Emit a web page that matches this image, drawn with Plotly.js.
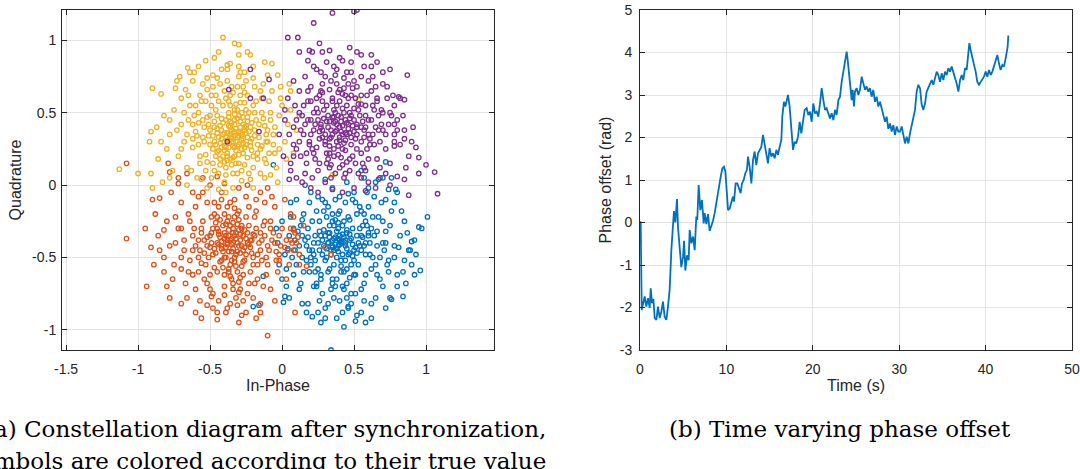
<!DOCTYPE html>
<html><head><meta charset="utf-8">
<script src="https://cdn.plot.ly/plotly-3.0.1.min.js"></script>
<style>html,body{margin:0;padding:0;background:#fff;} #chart{width:1080px;height:469px;}</style>
</head><body><div id="chart"></div>
<script>
// ---- Constellation symbols (In-Phase, Quadrature) ----
const yellowSymbols = [
[-0.41,1.02],[-0.33,0.98],[-0.53,0.86],[-0.655,0.81],[-0.64,0.78],[-0.90,0.67],[-0.84,0.63],[-0.74,0.67],[-0.71,0.75],[-0.87,0.40],
[-0.91,0.37],[-0.92,0.30],[-1.13,0.11],[-1.00,0.08],[-0.91,0.08],[-0.83,0.02],[-0.90,-0.02],[-0.30,0.97],[-0.22,0.90],[-0.30,0.90],
[-0.07,0.84],[-0.38,0.83],[-0.36,0.84],[-0.29,0.78],[-0.03,0.76],[-0.01,0.68],[0.06,0.65],[0.35,0.07],[-0.39,-0.05],[0.53,0.59],
[-0.35,0.33],[-0.30,0.28],[-0.42,0.38],[-0.25,0.41],[-0.38,0.22],[-0.47,0.30],[-0.28,0.35],[-0.33,0.45],[-0.40,0.27],[-0.22,0.30],
[-0.51,0.42],[-0.36,0.18],[-0.31,0.52],[-0.45,0.48],[-0.27,0.22],[-0.19,0.38],[-0.55,0.33],[-0.39,0.12],[-0.32,0.39],[-0.44,0.24],
[-0.24,0.47],[-0.58,0.50],[-0.37,0.58],[-0.29,0.62],[-0.48,0.15],[-0.15,0.25],[-0.12,0.41],[-0.53,0.21],[-0.34,0.08],[-0.26,0.14],
[-0.41,0.55],[-0.20,0.55],[-0.60,0.37],[-0.46,0.62],[-0.17,0.18],[-0.62,0.26],[-0.35,0.68],[-0.10,0.30],[-0.49,0.05],[-0.23,0.08],
[-0.56,0.58],[-0.43,0.70],[-0.30,0.75],[-0.65,0.45],[-0.68,0.30],[-0.08,0.45],[-0.14,0.60],[-0.05,0.22],[-0.40,0.02],[-0.28,0.03],
[-0.52,0.66],[-0.33,0.26],[-0.38,0.31],[-0.31,0.33],[-0.36,0.40],[-0.42,0.32],[-0.29,0.44],[-0.34,0.36],[-0.27,0.29],[-0.39,0.45],
[-0.45,0.36],[-0.33,0.20],[-0.24,0.33],[-0.41,0.20],[-0.37,0.50],[-0.50,0.28],[-0.21,0.24],[-0.30,0.48],[-0.47,0.44],[-0.26,0.38],
[-0.18,0.45],[-0.54,0.40],[-0.43,0.14],[-0.32,0.15],[-0.25,0.52],[-0.36,0.62],[-0.49,0.55],[-0.57,0.15],[-0.16,0.33],[-0.11,0.15],
[-0.64,0.55],[-0.70,0.42],[-0.72,0.20],[-0.66,0.12],[-0.59,0.05],[-0.06,0.35],[-0.02,0.48],[-0.09,0.58],[-0.19,0.68],[-0.25,0.72],
[-0.48,0.76],[-0.55,0.70],[-0.75,0.52],[-0.78,0.35],[-0.80,0.25],[-0.76,0.10],[-0.04,0.12],[0.02,0.30],[0.04,0.42],[-0.01,0.60],
[-0.13,0.70],[-0.38,0.80],[-0.61,0.78],[-0.82,0.48],[-0.44,-0.03],[-0.20,-0.02],[-0.12,0.05],[0.06,0.52],[0.10,0.38],[-0.07,0.65],
[-0.34,0.30],[-0.30,0.37],[-0.37,0.26],[-0.28,0.31],[-0.40,0.36],[-0.35,0.43],[-0.32,0.24],[-0.43,0.41],[-0.26,0.26],[-0.38,0.17],
[-0.23,0.37],[-0.46,0.20],[-0.29,0.57],[-0.52,0.47],[-0.20,0.12],[-0.58,0.43],[-0.14,0.50],[-0.31,0.68],[-0.44,0.58],[-0.53,0.10],
[-0.27,0.42],[-0.33,0.49],[-0.40,0.24],[-0.36,0.35],[-0.24,0.19],[-0.48,0.34],[-0.21,0.43],[-0.39,0.07],[-0.17,0.28],[-0.62,0.32],
[0.08,0.22],[0.12,0.48],[-0.03,0.02],[-0.57,0.62],[-0.67,0.66],[-0.40,0.65],[-0.26,0.64],[-0.11,0.35],[-0.09,0.22],[-0.15,0.08],
[-0.33,0.34],[-0.37,0.29],[-0.29,0.40],[-0.41,0.35],[-0.31,0.27],[-0.35,0.38],[-0.39,0.33],[-0.27,0.32],[-0.43,0.29],[-0.33,0.42],
[-0.25,0.36],[-0.45,0.39],[-0.30,0.21],[-0.37,0.47],[-0.22,0.27],[-0.48,0.25],[-0.28,0.50],[-0.42,0.46],[-0.35,0.14],[-0.19,0.34],
[-0.51,0.34],[-0.32,0.56],[-0.46,0.52],[-0.23,0.50],[-0.40,0.16],[-0.16,0.42],[-0.55,0.45],[-0.28,0.10],[-0.44,0.08],[-0.20,0.20],
[-0.58,0.28],[-0.34,0.64],[-0.49,0.62],[-0.14,0.27],[-0.62,0.42],[-0.27,0.68],[-0.52,0.16],[-0.10,0.38],[-0.38,0.72],[-0.60,0.55],
[-0.18,0.58],[-0.66,0.35],[-0.08,0.50],[-0.45,0.74],[-0.22,0.04],[-0.56,0.04],[-0.70,0.25],[-0.06,0.28],[-0.30,0.82],[-0.65,0.62],
[-0.36,0.31],[-0.32,0.30],[-0.38,0.36],[-0.30,0.34],[-0.40,0.30],[-0.34,0.27],[-0.36,0.44],[-0.26,0.40],[-0.44,0.33],[-0.31,0.46],
[-0.28,0.25],[-0.42,0.26],[-0.24,0.44],[-0.47,0.40],[-0.38,0.20],[-0.33,0.52],[-0.50,0.48],[-0.21,0.32],[-0.43,0.18],[-0.26,0.57],
[-0.54,0.30],[-0.17,0.22],[-0.39,0.60],[-0.57,0.20],[-0.13,0.46],[-0.48,0.68],[-0.24,0.62],[-0.61,0.48],[-0.12,0.18],[-0.31,0.08],
[-0.68,0.50],[-0.05,0.40],[-0.42,0.80],[-0.73,0.38],[-0.20,0.74],[-0.63,0.10],[-0.02,0.25],[-0.52,0.74],[-0.78,0.45],[-0.15,0.65],
[-0.34,0.19],[-0.46,0.28],[-0.29,0.36],[-0.37,0.41],[-0.25,0.28],[-0.41,0.43],[-0.33,0.37],[-0.39,0.26],[-0.27,0.47],[-0.45,0.23],
[-0.22,0.40],[-0.50,0.38],[-0.36,0.55],[-0.30,0.15],[-0.53,0.58],[-0.19,0.50],[-0.47,0.10],[-0.11,0.30],[-0.59,0.34],[-0.26,0.78],
[-0.84,0.30],[-0.86,0.18],[-0.70,0.60],[-0.58,0.82],[-0.47,0.88],[-0.20,0.82],[-0.10,0.76],[0.00,0.55],[0.03,0.18],[-0.08,0.07],
[-0.34,-0.02],[-0.52,-0.02],[-0.66,0.00],[-0.78,0.05],[-0.62,0.72],[-0.73,0.72],[-0.24,0.92],[-0.44,0.92],[-0.12,0.85],[0.05,0.70]
];
const purpleSymbols = [
[0.52,1.21],[0.50,1.20],[0.35,1.19],[0.22,1.12],[0.04,1.02],[0.11,1.02],[0.26,0.98],[0.52,0.92],[0.19,0.93],[0.21,0.92],
[0.87,0.76],[0.85,0.59],[0.81,0.61],[0.78,0.42],[0.95,0.19],[1.00,0.14],[1.06,0.09],[1.08,-0.06],[0.88,-0.07],[0.85,0.04],
[0.78,0.27],[0.85,0.32],[-0.37,0.66],[-0.38,0.30],[-0.22,0.60],[-0.22,0.80],[-0.09,0.73],[-0.16,0.37],[-0.13,0.60],
[0.40,0.40],[0.45,0.35],[0.33,0.44],[0.52,0.42],[0.38,0.30],[0.28,0.38],[0.47,0.50],[0.36,0.52],[0.55,0.30],[0.42,0.25],
[0.30,0.28],[0.60,0.45],[0.25,0.50],[0.49,0.20],[0.35,0.60],[0.58,0.55],[0.20,0.35],[0.44,0.62],[0.63,0.35],[0.32,0.18],
[0.51,0.60],[0.18,0.45],[0.67,0.48],[0.40,0.12],[0.27,0.65],[0.56,0.15],[0.22,0.22],[0.70,0.38],[0.46,0.70],[0.15,0.55],
[0.62,0.65],[0.34,0.72],[0.12,0.30],[0.72,0.25],[0.53,0.08],[0.25,0.10],[0.43,0.05],[0.10,0.45],[0.66,0.60],[0.20,0.68],
[0.75,0.50],[0.38,0.80],[0.55,0.75],[0.08,0.20],[0.78,0.35],[0.30,0.02],[0.60,0.02],[0.16,0.75],[0.70,0.70],[0.48,0.85],
[0.41,0.44],[0.37,0.37],[0.44,0.31],[0.39,0.48],[0.35,0.35],[0.46,0.42],[0.32,0.40],[0.50,0.37],[0.42,0.53],[0.29,0.46],
[0.48,0.28],[0.36,0.25],[0.54,0.48],[0.26,0.32],[0.57,0.38],[0.40,0.58],[0.31,0.55],[0.45,0.16],[0.23,0.42],[0.61,0.28],
[0.50,0.53],[0.34,0.14],[0.64,0.52],[0.19,0.28],[0.28,0.58],[0.55,0.22],[0.43,0.67],[0.13,0.38],[0.69,0.42],[0.37,0.08],
[0.59,0.62],[0.24,0.60],[0.47,0.10],[0.17,0.15],[0.73,0.60],[0.09,0.55],[0.80,0.45],[0.52,0.68],[0.33,0.66],[0.66,0.18],
[0.21,0.05],[0.05,0.35],[0.82,0.28],[0.57,0.82],[0.27,0.78],[0.12,0.65],[0.75,0.15],[0.63,0.75],[0.45,0.78],[0.06,0.10],
[0.14,0.02],[0.35,-0.03],[0.50,-0.02],[0.68,0.05],[0.85,0.38],[0.88,0.20],[0.04,0.60],[0.22,0.82],[0.31,0.85],[0.40,0.88],
[0.62,0.82],[0.70,0.78],[0.77,0.62],[0.18,0.58],[0.26,0.15],[0.58,0.10],[0.72,0.08],[0.10,0.05],[0.42,0.35],[0.38,0.42],
[0.47,0.46],[0.33,0.32],[0.44,0.24],[0.51,0.32],[0.36,0.47],[0.27,0.42],[0.53,0.56],[0.41,0.19],[0.30,0.35],[0.56,0.44],
[0.39,0.64],[0.22,0.50],[0.60,0.35],[0.48,0.62],[0.31,0.22],[0.65,0.40],[0.24,0.26],[0.43,0.74],[0.14,0.48],[0.68,0.30],
[0.08,0.28],[0.02,0.45],[0.78,0.55],[0.55,0.90],[0.28,0.92],[0.82,0.60],[0.90,0.30],[0.01,0.20],[0.65,-0.02],[0.25,-0.05],
[0.42,0.41],[0.38,0.38],[0.44,0.36],[0.36,0.43],[0.40,0.33],[0.46,0.39],[0.34,0.38],[0.41,0.47],[0.49,0.41],[0.31,0.44],
[0.43,0.29],[0.37,0.50],[0.52,0.35],[0.28,0.33],[0.48,0.48],[0.33,0.27],[0.55,0.40],[0.25,0.45],[0.45,0.55],[0.39,0.21],
[0.58,0.48],[0.22,0.38],[0.35,0.58],[0.52,0.25],[0.29,0.52],[0.61,0.32],[0.42,0.63],[0.19,0.30],[0.63,0.55],[0.33,0.12],
[0.55,0.62],[0.16,0.42],[0.47,0.18],[0.26,0.62],[0.67,0.38],[0.38,0.70],[0.23,0.18],[0.70,0.50],[0.50,0.72],[0.12,0.50],
[0.60,0.18],[0.30,0.75],[0.74,0.42],[0.18,0.65],[0.44,0.08],[0.65,0.68],[0.10,0.25],[0.78,0.30],[0.36,0.82],[0.55,0.05],
[0.41,0.37],[0.37,0.44],[0.45,0.43],[0.34,0.33],[0.43,0.50],[0.48,0.33],[0.32,0.48],[0.50,0.45],[0.39,0.27],[0.27,0.40],
[0.53,0.52],[0.36,0.20],[0.57,0.33],[0.24,0.53],[0.46,0.60],[0.31,0.15],[0.62,0.45],[0.21,0.25],[0.40,0.66],[0.59,0.25],
[0.15,0.35],[0.66,0.58],[0.28,0.70],[0.51,0.15],[0.72,0.35],[0.20,0.58],[0.48,0.78],[0.13,0.20],[0.76,0.48],[0.34,0.05],
[0.60,0.72],[0.08,0.40],[0.68,0.12],[0.24,0.80],[0.80,0.38],[0.42,0.86],[0.06,0.15],[0.73,0.68],[0.16,0.08],[0.84,0.48],
[0.40,0.31],[0.35,0.47],[0.47,0.36],[0.30,0.30],[0.44,0.45],[0.52,0.40],[0.38,0.55],[0.26,0.37],[0.55,0.56],[0.33,0.22],
[0.58,0.40],[0.20,0.45],[0.49,0.67],[0.42,0.14],[0.64,0.28],[0.28,0.64],[0.69,0.52],[0.17,0.22],[0.37,0.76],[0.57,0.12],
[0.91,0.40],[0.93,0.26],[0.86,0.12],[0.80,0.06],[0.62,0.90],[0.47,0.95],[0.33,0.93],[0.18,0.86],[0.08,0.72],[0.02,0.52],
[0.05,0.04],[0.20,-0.02],[0.42,-0.05],[0.58,-0.04],[0.75,0.00],[0.95,0.08],[0.75,0.80],[0.66,0.85],[0.12,0.92],[-0.02,0.35]
];
const orangeSymbols = [
[-1.08,0.15],[-1.08,-0.37],[-0.94,-0.70],[-0.89,-0.55],[-0.91,-0.43],[-0.78,-0.78],[-0.45,-0.93],[-0.10,-1.04],[0.09,-0.88],[-0.39,-0.88],
[-0.31,-0.83],[-0.52,-0.83],[-0.49,-0.77],[-0.82,-0.31],[-0.85,-0.09],[-0.79,0.15],[-0.78,0.09],[-0.72,0.01],[0.30,-0.43],[0.34,-0.48],
[0.15,-0.28],[0.17,-0.56],[0.08,-0.22],[0.08,-0.31],[0.06,-0.38],
[-0.35,-0.37],[-0.30,-0.42],[-0.40,-0.33],[-0.28,-0.30],[-0.45,-0.40],[-0.33,-0.50],[-0.38,-0.25],[-0.22,-0.38],[-0.48,-0.30],[-0.25,-0.48],
[-0.42,-0.52],[-0.31,-0.20],[-0.52,-0.42],[-0.18,-0.30],[-0.37,-0.60],[-0.55,-0.25],[-0.20,-0.55],[-0.44,-0.15],[-0.27,-0.62],[-0.58,-0.50],
[-0.15,-0.45],[-0.50,-0.62],[-0.33,-0.10],[-0.12,-0.35],[-0.62,-0.35],[-0.40,-0.70],[-0.23,-0.15],[-0.60,-0.15],[-0.10,-0.55],[-0.48,-0.75],
[-0.29,-0.72],[-0.68,-0.45],[-0.05,-0.40],[-0.55,-0.05],[-0.17,-0.65],[-0.65,-0.60],[-0.36,-0.82],[-0.08,-0.25],[-0.72,-0.30],[-0.20,-0.78],
[-0.02,-0.48],[-0.75,-0.55],[-0.42,-0.05],[-0.12,-0.12],[-0.60,-0.72],[0.03,-0.38],[-0.25,-0.88],[-0.78,-0.42],[0.06,-0.30],[-0.70,-0.12],
[-0.34,-0.40],[-0.37,-0.35],[-0.32,-0.33],[-0.39,-0.43],[-0.29,-0.38],[-0.43,-0.36],[-0.35,-0.46],[-0.31,-0.27],[-0.41,-0.28],[-0.26,-0.43],
[-0.46,-0.47],[-0.36,-0.55],[-0.24,-0.33],[-0.50,-0.35],[-0.33,-0.22],[-0.21,-0.47],[-0.45,-0.22],[-0.28,-0.56],[-0.53,-0.55],[-0.16,-0.40],
[-0.40,-0.62],[-0.56,-0.30],[-0.19,-0.22],[-0.30,-0.67],[-0.47,-0.12],[-0.14,-0.52],[-0.60,-0.42],[-0.38,-0.15],[-0.09,-0.45],[-0.52,-0.68],
[-0.23,-0.68],[-0.64,-0.25],[-0.06,-0.33],[-0.44,-0.80],[-0.11,-0.62],[-0.70,-0.50],[-0.57,-0.80],[-0.32,-0.78],[-0.01,-0.42],[-0.67,-0.68],
[-0.80,-0.25],[-0.85,-0.45],[-0.76,-0.65],[-0.62,-0.05],[-0.50,0.00],[-0.30,-0.02],[-0.15,-0.05],[-0.05,-0.15],[0.08,-0.45],[0.10,-0.40],
[-0.03,-0.60],[-0.08,-0.72],[-0.15,-0.82],[-0.28,-0.90],[-0.48,-0.85],[-0.66,-0.78],[-0.82,-0.60],[-0.88,-0.20],[-0.72,0.05],[0.05,-0.55],
[-0.34,-0.30],[-0.38,-0.40],[-0.31,-0.46],[-0.42,-0.44],[-0.27,-0.35],[-0.36,-0.28],[-0.44,-0.32],[-0.33,-0.53],[-0.23,-0.41],[-0.49,-0.40],
[-0.39,-0.50],[-0.30,-0.18],[-0.54,-0.47],[-0.19,-0.35],[-0.41,-0.57],[-0.26,-0.52],[-0.47,-0.20],[-0.35,-0.65],[-0.13,-0.28],[-0.58,-0.38],
[0.00,-0.30],[0.04,-0.45],[-0.02,-0.52],[0.09,-0.33],[0.12,-0.48],[-0.07,-0.08],[-0.18,-0.10],[-0.40,0.01],[-0.58,-0.60],[-0.74,-0.22],
[-0.36,-0.38],[-0.33,-0.35],[-0.38,-0.41],[-0.31,-0.40],[-0.40,-0.37],[-0.34,-0.44],[-0.37,-0.31],[-0.29,-0.34],[-0.42,-0.42],[-0.32,-0.48],
[-0.44,-0.34],[-0.27,-0.45],[-0.39,-0.27],[-0.35,-0.52],[-0.25,-0.37],[-0.47,-0.44],[-0.30,-0.24],[-0.43,-0.53],[-0.22,-0.43],[-0.49,-0.33],
[-0.37,-0.58],[-0.28,-0.28],[-0.51,-0.50],[-0.20,-0.34],[-0.40,-0.20],[-0.31,-0.60],[-0.54,-0.38],[-0.17,-0.48],[-0.45,-0.60],[-0.25,-0.22],
[-0.57,-0.45],[-0.34,-0.68],[-0.14,-0.38],[-0.49,-0.22],[-0.22,-0.60],[-0.61,-0.30],[-0.40,-0.76],[-0.11,-0.50],[-0.36,-0.12],[-0.54,-0.65],
[-0.18,-0.18],[-0.64,-0.52],[-0.27,-0.80],[-0.07,-0.38],[-0.52,-0.12],[-0.13,-0.70],[-0.68,-0.38],[-0.45,-0.88],[-0.04,-0.52],[-0.58,-0.08],
[-0.35,-0.41],[-0.39,-0.35],[-0.32,-0.37],[-0.37,-0.46],[-0.30,-0.31],[-0.42,-0.39],[-0.28,-0.42],[-0.40,-0.50],[-0.34,-0.26],[-0.45,-0.30],
[-0.24,-0.40],[-0.36,-0.63],[-0.48,-0.48],[-0.27,-0.53],[-0.43,-0.24],[-0.20,-0.50],[-0.52,-0.36],[-0.33,-0.16],[-0.23,-0.28],[-0.47,-0.57],
[-0.15,-0.33],[-0.56,-0.54],[-0.30,-0.74],[-0.42,-0.10],[-0.10,-0.42],[-0.62,-0.45],[-0.19,-0.68],[-0.50,-0.72],[-0.08,-0.30],[-0.65,-0.20],
[-0.38,-0.85],[0.02,-0.43],[-0.70,-0.58],[-0.25,-0.08],[-0.02,-0.35],[-0.60,-0.88],[0.07,-0.40],[-0.74,-0.40],[-0.15,-0.88],[0.11,-0.36],
[-0.38,-0.38],[-0.34,-0.33],[-0.29,-0.47],[-0.41,-0.46],[-0.26,-0.31],[-0.44,-0.41],[-0.32,-0.56],[-0.37,-0.22],[-0.21,-0.38],[-0.50,-0.43],
[-0.29,-0.64],[-0.46,-0.26],[-0.17,-0.55],[-0.56,-0.33],[-0.34,-0.72],[-0.12,-0.25],[-0.62,-0.62],[-0.24,-0.75],[-0.04,-0.46],[-0.70,-0.30],
[-0.82,-0.50],[-0.86,-0.35],[-0.80,-0.70],[-0.70,-0.82],[-0.56,-0.92],[-0.30,-0.95],[-0.18,-0.92],[-0.05,-0.80],[0.03,-0.65],[0.12,-0.55],
[-0.90,-0.10],[-0.77,-0.05],[-0.66,0.08],[-0.55,0.05],[-0.45,0.06],[-0.24,0.00],[-0.10,-0.02],[0.02,-0.10],[0.06,-0.20],[-0.95,-0.30]
];
const blueSymbols = [
[0.34,-1.14],[0.51,-0.94],[0.46,-0.84],[0.30,-0.92],[0.21,-0.91],[0.17,-0.88],[0.96,-0.59],[1.01,-0.22],[0.95,-0.29],[0.90,-0.39],
[0.89,-0.45],[0.81,-0.43],[0.84,-0.77],[0.76,-0.79],[-0.20,-0.84],[-0.16,-0.83],[-0.06,0.14],[0.72,0.16],[0.67,0.04],[0.74,-0.03],
[0.79,-0.03],[-0.13,-0.63],[0.01,-0.81],[0.02,-0.77],
[0.40,-0.38],[0.35,-0.42],[0.45,-0.33],[0.30,-0.35],[0.50,-0.45],[0.38,-0.50],[0.43,-0.25],[0.28,-0.48],[0.55,-0.35],[0.33,-0.28],
[0.48,-0.55],[0.22,-0.40],[0.58,-0.48],[0.40,-0.18],[0.25,-0.58],[0.62,-0.30],[0.35,-0.65],[0.52,-0.20],[0.18,-0.30],[0.65,-0.55],
[0.45,-0.68],[0.20,-0.50],[0.60,-0.15],[0.30,-0.12],[0.70,-0.40],[0.12,-0.42],[0.55,-0.72],[0.28,-0.75],[0.75,-0.28],[0.10,-0.55],
[0.68,-0.65],[0.40,-0.80],[0.15,-0.20],[0.50,-0.05],[0.78,-0.50],[0.05,-0.35],[0.62,-0.82],[0.22,-0.70],[0.82,-0.35],[0.08,-0.62],
[0.35,-0.02],[0.72,-0.10],[0.18,-0.82],[0.85,-0.52],[0.02,-0.48],[0.55,-0.88],[0.25,-0.08],[0.80,-0.70],[0.65,0.02],[0.00,-0.25],
[0.41,-0.40],[0.37,-0.36],[0.44,-0.42],[0.34,-0.45],[0.47,-0.38],[0.39,-0.30],[0.32,-0.40],[0.49,-0.30],[0.42,-0.48],[0.29,-0.42],
[0.53,-0.40],[0.36,-0.55],[0.46,-0.22],[0.26,-0.32],[0.57,-0.42],[0.41,-0.60],[0.31,-0.22],[0.51,-0.62],[0.23,-0.52],[0.60,-0.35],
[0.44,-0.12],[0.27,-0.65],[0.63,-0.50],[0.16,-0.38],[0.56,-0.28],[0.34,-0.72],[0.48,-0.75],[0.19,-0.60],[0.67,-0.22],[0.37,-0.10],
[0.58,-0.62],[0.13,-0.28],[0.71,-0.45],[0.24,-0.18],[0.46,-0.85],[0.09,-0.45],[0.74,-0.60],[0.30,-0.85],[0.59,-0.05],[0.06,-0.22],
[0.88,-0.45],[0.92,-0.38],[0.78,-0.12],[0.70,0.05],[0.57,0.05],[0.20,-0.05],[0.10,-0.10],[0.03,-0.58],[0.12,-0.72],[0.25,-0.88],
[0.38,-0.92],[0.65,-0.78],[0.75,-0.78],[0.85,-0.25],[0.90,-0.55],[0.00,-0.65],[-0.03,-0.40],[0.05,-0.78],[0.80,-0.05],[0.62,-0.92],
[0.40,-0.35],[0.36,-0.45],[0.44,-0.38],[0.33,-0.33],[0.47,-0.47],[0.39,-0.42],[0.42,-0.28],[0.31,-0.50],[0.52,-0.35],[0.28,-0.38],
[0.50,-0.52],[0.35,-0.25],[0.55,-0.45],[0.21,-0.45],[0.45,-0.58],[0.38,-0.65],[0.61,-0.40],[0.26,-0.25],[0.54,-0.15],[0.17,-0.52],
[0.66,-0.32],[0.43,-0.72],[0.32,-0.60],[0.49,-0.10],[0.14,-0.35],[0.73,-0.55],[0.58,-0.25],[0.24,-0.70],[0.69,-0.12],[0.08,-0.30],
[0.41,-0.39],[0.37,-0.41],[0.43,-0.36],[0.35,-0.38],[0.45,-0.44],[0.39,-0.46],[0.33,-0.36],[0.47,-0.34],[0.38,-0.32],[0.49,-0.41],
[0.31,-0.44],[0.44,-0.52],[0.36,-0.28],[0.52,-0.47],[0.29,-0.31],[0.41,-0.56],[0.54,-0.30],[0.26,-0.45],[0.47,-0.24],[0.33,-0.58],
[0.58,-0.40],[0.23,-0.35],[0.50,-0.62],[0.39,-0.20],[0.27,-0.62],[0.61,-0.48],[0.20,-0.55],[0.55,-0.18],[0.42,-0.70],[0.17,-0.42],
[0.64,-0.35],[0.32,-0.15],[0.57,-0.68],[0.21,-0.25],[0.68,-0.50],[0.36,-0.78],[0.14,-0.50],[0.63,-0.22],[0.48,-0.82],[0.11,-0.32],
[0.72,-0.32],[0.26,-0.80],[0.46,-0.06],[0.70,-0.70],[0.07,-0.50],[0.60,-0.02],[0.78,-0.42],[0.19,-0.12],[0.52,-0.90],[0.84,-0.60],
[0.40,-0.41],[0.36,-0.37],[0.44,-0.40],[0.38,-0.44],[0.42,-0.34],[0.34,-0.48],[0.46,-0.48],[0.32,-0.33],[0.48,-0.37],[0.39,-0.26],
[0.30,-0.52],[0.51,-0.43],[0.43,-0.60],[0.25,-0.40],[0.56,-0.36],[0.35,-0.20],[0.53,-0.55],[0.22,-0.48],[0.59,-0.28],[0.37,-0.70],
[0.18,-0.36],[0.62,-0.58],[0.29,-0.18],[0.45,-0.78],[0.66,-0.42],[0.15,-0.60],[0.51,-0.12],[0.24,-0.68],[0.70,-0.25],[0.40,-0.08],
[0.74,-0.52],[0.09,-0.38],[0.57,-0.80],[0.32,-0.82],[0.76,-0.18],[0.13,-0.68],[0.64,-0.08],[0.04,-0.44],[0.80,-0.62],[0.42,-0.88],
[0.39,-0.37],[0.35,-0.43],[0.45,-0.31],[0.32,-0.40],[0.49,-0.49],[0.41,-0.52],[0.37,-0.24],[0.54,-0.42],[0.27,-0.35],[0.47,-0.64],
[0.60,-0.33],[0.23,-0.60],[0.35,-0.68],[0.57,-0.20],[0.19,-0.45],[0.66,-0.62],[0.28,-0.10],[0.51,-0.75],[0.72,-0.40],[0.14,-0.24],
[0.93,-0.48],[0.87,-0.33],[0.83,-0.18],[0.86,-0.68],[0.72,-0.85],[0.58,-0.95],[0.43,-0.98],[0.27,-0.95],[0.14,-0.82],[0.03,-0.70],
[-0.02,-0.55],[-0.04,-0.30],[0.06,-0.12],[0.16,0.00],[0.30,0.04],[0.45,0.02],[0.55,0.10],[0.76,0.05],[0.97,-0.30],[0.92,-0.62]
];

// ---- Phase offset over time (t in s, phase in rad) ----
const timeS = [0,0.08,0.2,0.54,0.73,0.93,1.12,1.24,1.39,1.55,1.70,1.90,2.08,2.28,2.47,2.66,2.85,3.05,3.24,3.43,3.63,3.82,3.93,4.09,4.28,4.40,4.59,4.78,4.98,5.10,5.25,5.44,5.63,5.75,5.94,6.14,6.33,6.52,6.63,6.79,6.98,7.17,7.37,7.48,7.68,7.87,8.06,8.25,8.45,8.64,8.83,9.03,9.14,9.34,9.53,9.72,9.88,10.03,10.19,10.38,10.57,10.76,10.88,11.07,11.26,11.46,11.65,11.80,12.00,12.19,12.38,12.50,12.69,12.89,13.08,13.27,13.46,13.66,13.85,14.04,14.24,14.43,14.62,14.81,15.00,15.20,15.39,15.59,15.78,15.97,16.16,16.36,16.47,16.66,16.82,16.97,17.13,17.32,17.51,17.71,17.90,18.09,18.29,18.48,18.67,18.87,19.06,19.29,19.48,19.68,19.87,20.06,20.25,20.45,20.64,20.83,21.03,21.22,21.41,21.60,21.80,21.99,22.18,22.38,22.57,22.76,22.96,23.15,23.34,23.53,23.73,23.92,24.04,24.23,24.38,24.50,24.61,24.77,24.88,25.08,25.27,25.46,25.66,25.85,26.04,26.23,26.43,26.62,26.81,27.00,27.20,27.39,27.58,27.78,27.97,28.16,28.36,28.55,28.74,28.94,29.13,29.32,29.51,29.71,29.90,30.09,30.29,30.48,30.67,30.86,31.06,31.25,31.44,31.64,31.83,32.02,32.21,32.41,32.60,32.79,32.99,33.18,33.37,33.56,33.76,33.95,34.14,34.34,34.53,34.72,34.92,35.11,35.30,35.49,35.69,35.88,36.07,36.27,36.46,36.65,36.85,37.04,37.23,37.42,37.62,37.81,38.00,38.12,38.27,38.46,38.66,38.85,39.04,39.24,39.43,39.62,39.81,40.01,40.20,40.39,40.59,40.78,40.97,41.17,41.36,41.55,41.74,41.94,42.13,42.32,42.44,42.55,42.63];
const phaseRad = [0,0.02,-2.06,-1.74,-1.98,-1.78,-2.01,-1.55,-1.90,-1.80,-2.25,-2.29,-1.98,-2.25,-2.10,-1.86,-2.21,-2.29,-1.98,-1.59,-0.65,-0.12,0.27,0.00,0.55,-0.12,-0.65,-1.05,-0.81,-0.43,-1.13,-0.77,-0.89,-0.18,-0.49,-0.33,-0.65,0.14,0.06,0.88,0.29,0.53,-0.02,0.22,-0.04,0.20,-0.20,-0.08,0.04,0.22,0.45,0.73,0.92,1.08,1.27,1.31,1.20,0.84,0.29,0.33,0.45,0.61,0.49,0.92,0.92,0.81,0.69,0.92,1.00,1.16,1.24,1.55,1.31,0.92,1.47,1.67,1.35,1.63,1.71,1.78,2.06,1.82,1.59,1.39,1.75,1.55,1.63,1.51,1.71,1.59,1.78,1.94,2.49,2.84,2.73,2.88,3.00,2.73,2.26,1.71,1.90,1.86,2.02,2.37,2.10,2.45,2.65,2.69,2.53,2.61,2.37,2.80,2.57,2.61,2.49,2.80,3.16,2.88,2.65,2.69,2.57,2.45,2.57,2.41,2.65,2.53,2.88,2.96,3.31,3.55,3.78,4.02,3.82,3.43,3.12,2.88,3.12,2.73,3.08,3.16,3.00,3.12,3.43,3.24,3.12,3.20,3.08,3.16,2.96,3.12,2.84,2.96,2.73,2.84,2.65,2.53,2.37,2.49,2.20,2.33,2.14,2.29,2.06,2.26,2.14,2.14,2.26,2.06,1.86,2.02,1.86,2.10,2.29,2.49,2.65,3.08,3.24,3.16,2.78,2.65,2.80,3.08,3.16,3.27,3.35,3.24,3.39,3.55,3.47,3.31,3.51,3.35,3.55,3.47,3.63,3.55,3.67,3.55,3.39,3.27,3.08,3.35,3.47,3.35,3.63,3.59,3.98,4.22,4.06,3.86,3.71,3.55,3.31,3.24,3.31,3.39,3.43,3.55,3.43,3.59,3.47,3.55,3.67,3.82,3.94,3.74,3.59,3.71,3.67,3.86,3.98,4.13,4.40];

// ---- Tick labels ----
const iqXTickVals = [-1.5,-1,-0.5,0,0.5,1];
const iqXTickText = ['-1.5','-1','-0.5','0','0.5','1'];
const iqYTickVals = [-1,-0.5,0,0.5,1];
const iqYTickText = ['-1','-0.5','0','0.5','1'];
const tTickVals = [0,10,20,30,40,50];
const tTickText = ['0','10','20','30','40','50'];
const phTickVals = [-3,-2,-1,0,1,2,3,4,5];
const phTickText = ['-3','-2','-1','0','1','2','3','4','5'];

const captionA1 = '(a) Constellation diagram after synchronization,';
const captionA2 = 'symbols are colored according to their true value';
const captionB = '(b) Time varying phase offset';

const colors = {blue:'#0072BD', orange:'#D95319', yellow:'#EDB120', purple:'#7E2F8E', line:'#0072BD'};

function sym(pts, color){
  return {type:'scatter', mode:'markers', x:pts.map(p=>p[0]), y:pts.map(p=>p[1]),
    xaxis:'x', yaxis:'y', showlegend:false, hoverinfo:'skip', cliponaxis:true,
    marker:{symbol:'circle-open', size:4.5, color:color, line:{width:1.3, color:color}}};
}
const traces = [
  sym(blueSymbols, colors.blue),
  sym(orangeSymbols, colors.orange),
  sym(yellowSymbols, colors.yellow),
  sym(purpleSymbols, colors.purple),
  {type:'scatter', mode:'lines', x:timeS, y:phaseRad, xaxis:'x2', yaxis:'y2', showlegend:false,
   line:{color:colors.line, width:1.8}}
];

const W=1080, H=469;
const axisCommon = {
  showline:true, mirror:'ticks', linecolor:'#262626', linewidth:1,
  ticks:'inside', ticklen:5, tickwidth:1, tickcolor:'#262626',
  showgrid:true, gridcolor:'#e3e3e3', gridwidth:1, zeroline:false,
  tickfont:{family:'Liberation Sans, Arial, sans-serif', size:14, color:'#262626'},
  tickmode:'array', fixedrange:true
};
const titleFont = {family:'Liberation Sans, Arial, sans-serif', size:16, color:'#262626'};
const capFont = {family:'DejaVu Serif, serif', size:23, color:'#000'};

const layout = {
  width:W, height:H, margin:{l:0,r:0,t:0,b:0}, paper_bgcolor:'#fff', plot_bgcolor:'#fff',
  xaxis: Object.assign({}, axisCommon, {domain:[62/W, 494/W], range:[-1.528,1.472], tickvals:iqXTickVals, ticktext:iqXTickText,
    ticklabelstandoff:6, title:{text:'In-Phase', font:titleFont, standoff:4}, anchor:'y'}),
  yaxis: Object.assign({}, axisCommon, {domain:[1-350/H, 1-10/H], range:[-1.14,1.21], tickvals:iqYTickVals, ticktext:iqYTickText,
    ticklabelstandoff:2, title:{text:'Quadrature', font:titleFont, standoff:6}, anchor:'x'}),
  xaxis2: Object.assign({}, axisCommon, {domain:[640/W, 1072/W], range:[0,50], tickvals:tTickVals, ticktext:tTickText,
    ticklabelstandoff:6, title:{text:'Time (s)', font:titleFont, standoff:4}, anchor:'y2'}),
  yaxis2: Object.assign({}, axisCommon, {domain:[1-350/H, 1-10/H], range:[-3,5], tickvals:phTickVals, ticktext:phTickText,
    ticklabelstandoff:4, title:{text:'Phase offset (rad)', font:titleFont, standoff:4}, anchor:'x2'}),
  annotations:[
    {text:captionA1, xref:'paper', yref:'paper', x:548/W, y:1-429/H, xanchor:'right', yanchor:'middle', showarrow:false, font:capFont},
    {text:captionA2, xref:'paper', yref:'paper', x:548/W, y:1-461/H, xanchor:'right', yanchor:'middle', showarrow:false, font:capFont},
    {text:captionB, xref:'paper', yref:'paper', x:840/W, y:1-429/H, xanchor:'center', yanchor:'middle', showarrow:false, font:capFont}
  ]
};
Plotly.newPlot('chart', traces, layout, {staticPlot:true, displayModeBar:false});
</script></body></html>
